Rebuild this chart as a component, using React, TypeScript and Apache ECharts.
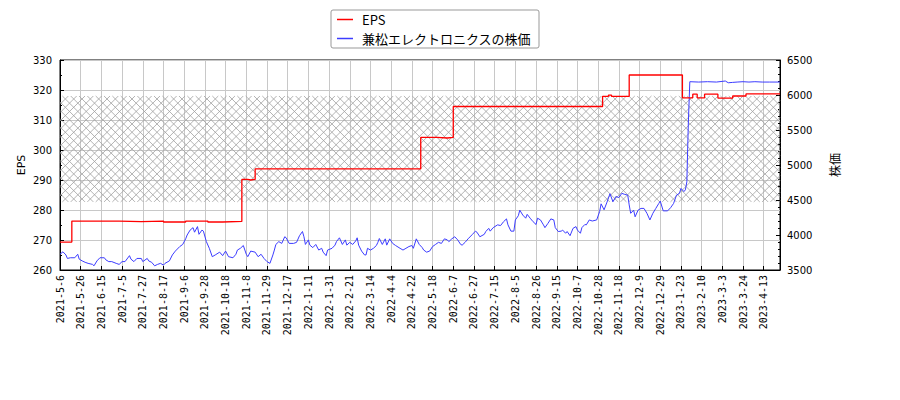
import React, { useEffect, useRef } from "react";
import * as echarts from "echarts";

// trading-day index of every x tick is a multiple of 14
const tickLabels = [
  "2021-5-6", "2021-5-26", "2021-6-15", "2021-7-5", "2021-7-27", "2021-8-17",
  "2021-9-6", "2021-9-28", "2021-10-18", "2021-11-8", "2021-11-29", "2021-12-17",
  "2022-1-11", "2022-1-31", "2022-2-21", "2022-3-14", "2022-4-4", "2022-4-22",
  "2022-5-18", "2022-6-7", "2022-6-27", "2022-7-15", "2022-8-5", "2022-8-26",
  "2022-9-15", "2022-10-7", "2022-10-28", "2022-11-18", "2022-12-9", "2022-12-29",
  "2023-1-23", "2023-2-10", "2023-3-3", "2023-3-24", "2023-4-13",
];
const TICK_STEP = 14;
const LAST_DAY = 487;

// EPS: [day index, value], held until next point
const epsSteps = [
  [0, 269.3], [8, 276.3], [40, 276.1], [55, 276.3], [70, 276.0], [85, 276.3],
  [100, 276.0], [110, 276.2], [123, 290.2], [127, 290.0], [129, 290.2],
  [132, 293.7], [244, 304.2], [255, 304.0], [262, 304.2], [266, 314.5],
  [367, 317.9], [371, 318.3], [373, 317.9], [385, 325.0], [421, 317.4],
  [428, 318.6], [431, 317.4], [436, 318.6], [445, 317.3], [455, 318.0],
  [464, 318.7], [487, 318.7],
];

// share price: [day index, yen]
const price = [
  [0, 3725], [2, 3760], [4, 3715], [5, 3665], [7, 3675], [10, 3675], [12, 3725],
  [13, 3655], [15, 3630], [17, 3610], [19, 3595], [22, 3580], [23, 3560], [25, 3630],
  [27, 3675], [30, 3675], [31, 3645], [33, 3620], [35, 3620], [38, 3595], [40, 3580],
  [42, 3620], [44, 3620], [47, 3705], [48, 3655], [50, 3620], [52, 3665], [55, 3665],
  [56, 3620], [59, 3665], [60, 3630], [62, 3610], [64, 3560], [66, 3580], [68, 3595],
  [70, 3570], [71, 3595], [74, 3630], [76, 3715], [78, 3770], [81, 3835], [83, 3865],
  [85, 3945], [86, 4000], [88, 4070], [90, 4105], [91, 4040], [93, 4120], [94, 4010],
  [96, 4070], [97, 4055], [99, 3905], [101, 3810], [103, 3690], [105, 3715], [108, 3755],
  [110, 3705], [112, 3770], [114, 3690], [117, 3675], [119, 3725], [120, 3785],
  [122, 3810], [124, 3850], [126, 3725], [127, 3690], [129, 3770], [132, 3755],
  [134, 3690], [136, 3725], [138, 3665], [140, 3620], [142, 3595], [144, 3715],
  [145, 3785], [146, 3865], [148, 3905], [150, 3880], [152, 3975], [153, 3960],
  [155, 3880], [158, 3880], [160, 3895], [162, 3990], [164, 4050], [165, 3975],
  [166, 3865], [168, 3930], [169, 3855], [171, 3820], [173, 3865], [175, 3785],
  [177, 3810], [178, 3755], [180, 3705], [181, 3785], [184, 3810], [186, 3855],
  [187, 3905], [189, 3960], [191, 3865], [193, 3930], [194, 3855], [196, 3895],
  [198, 3865], [200, 3915], [201, 3960], [202, 3855], [204, 3770], [206, 3715],
  [207, 3715], [208, 3810], [210, 3785], [212, 3810], [214, 3850], [215, 3895],
  [216, 3950], [218, 3865], [220, 3945], [221, 3855], [223, 3945], [225, 3880],
  [227, 3850], [230, 3810], [232, 3785], [234, 3810], [236, 3835], [238, 3850],
  [239, 3810], [241, 3945], [243, 3865], [245, 3820], [246, 3785], [248, 3755],
  [250, 3770], [252, 3835], [254, 3865], [256, 3895], [258, 3880], [260, 3945],
  [262, 3930], [263, 3905], [265, 3945], [267, 3975], [269, 3930], [271, 3865],
  [272, 3855], [274, 3895], [276, 3945], [279, 4010], [281, 4055], [282, 4040],
  [284, 3975], [287, 4010], [288, 4050], [290, 4095], [291, 4055], [293, 4105],
  [296, 4145], [298, 4135], [300, 4190], [302, 4230], [303, 4145], [305, 4055],
  [307, 4055], [308, 4215], [310, 4275], [311, 4355], [313, 4285], [315, 4240],
  [316, 4295], [318, 4240], [320, 4190], [322, 4150], [323, 4240], [325, 4215],
  [327, 4145], [328, 4105], [330, 4165], [332, 4230], [334, 4215], [335, 4105],
  [337, 4050], [339, 4055], [340, 4070], [342, 4025], [343, 4050], [345, 3990],
  [347, 4095], [349, 4120], [350, 4070], [352, 4025], [353, 4105], [355, 4150],
  [356, 4145], [358, 4215], [360, 4200], [363, 4215], [365, 4335], [366, 4445],
  [368, 4360], [370, 4470], [372, 4590], [374, 4475], [376, 4550], [378, 4535],
  [380, 4595], [382, 4580], [384, 4570], [385, 4430], [386, 4310], [388, 4355],
  [389, 4260], [391, 4355], [393, 4380], [395, 4380], [397, 4310], [399, 4215],
  [401, 4310], [403, 4380], [405, 4450], [406, 4485], [408, 4345], [411, 4345],
  [413, 4390], [415, 4450], [417, 4570], [419, 4595], [420, 4665], [422, 4620],
  [423, 4645], [424, 4760], [425, 5600], [426, 6190], [432, 6185], [438, 6190],
  [444, 6185], [450, 6200], [452, 6175], [455, 6180], [458, 6185], [462, 6190],
  [466, 6185], [470, 6190], [475, 6185], [480, 6185], [487, 6185],
];

// hatched band, in EPS units
const hatchTop = 318;
const hatchBottom = 282.7;

const NUM_FONT = "DejaVu Sans";
const JP_FONT = "Noto Sans CJK JP";

const App = () => {
  const chartRef = useRef<HTMLDivElement>(null);

  useEffect(() => {
    if (!chartRef.current) return undefined;
    const chart = echarts.init(chartRef.current, undefined, { renderer: "svg" });

    const options: any = {
      animation: false,
      backgroundColor: "#fff",
      grid: {
        left: 60,
        right: 120,
        top: 60,
        bottom: 130,
        show: true,
        borderColor: "#000",
        borderWidth: 1,
      },
      legend: {
        left: 331,
        top: 10,
        orient: "vertical",
        data: ["EPS", "兼松エレクトロニクスの株価"],
        icon: "rect",
        itemWidth: 16,
        itemHeight: 1.5,
        itemGap: 6,
        padding: [3, 8, 3, 6],
        backgroundColor: "#fff",
        borderColor: "#999",
        borderWidth: 1,
        borderRadius: 2,
        textStyle: { fontFamily: JP_FONT, fontSize: 13, color: "#000", padding: [0, 0, 0, 4] },
      },
      graphic: [
        {
          type: "text",
          x: 21,
          y: 165,
          rotation: Math.PI / 2,
          silent: true,
          style: {
            text: "EPS",
            fontFamily: NUM_FONT,
            fontSize: 11,
            fill: "#000",
            align: "center",
            verticalAlign: "middle",
          },
        },
      ],
      xAxis: {
        type: "value",
        min: 0,
        max: LAST_DAY,
        interval: TICK_STEP,
        axisLine: { lineStyle: { color: "#000" } },
        axisTick: { inside: true, length: 4, lineStyle: { color: "#000" } },
        splitLine: { show: true, lineStyle: { color: "#c8c8c8", width: 1 } },
        axisLabel: {
          rotate: 90,
          margin: 5,
          color: "#000",
          fontFamily: "DejaVu Sans Mono",
          fontSize: 10,
          showMaxLabel: false,
          formatter: (v: number) => {
            const i = Math.round(v / TICK_STEP);
            return Math.abs(v - i * TICK_STEP) < 1e-6 && i < tickLabels.length
              ? tickLabels[i]
              : "";
          },
        },
      },
      yAxis: [
        {
          type: "value",
          min: 260,
          max: 330,
          interval: 10,
          axisLine: { show: true, lineStyle: { color: "#000" } },
          axisTick: { show: true, inside: true, length: 4, lineStyle: { color: "#000" } },
          minorTick: { show: true, splitNumber: 2, length: 2, lineStyle: { color: "#000" } },
          splitLine: { show: true, lineStyle: { color: "#c8c8c8", width: 1 } },
          axisLabel: { color: "#000", fontFamily: NUM_FONT, fontSize: 10, margin: 8 },
        },
        {
          type: "value",
          position: "right",
          min: 3500,
          max: 6500,
          interval: 500,
          name: "株価",
          nameLocation: "middle",
          nameRotate: 90,
          nameGap: 48,
          nameMoveOverlap: false,
          nameTextStyle: { fontFamily: JP_FONT, fontSize: 12, color: "#000" },
          axisLine: { show: true, lineStyle: { color: "#000" } },
          axisTick: { show: true, inside: true, length: 4, lineStyle: { color: "#000" } },
          minorTick: { show: true, splitNumber: 5, length: 2, lineStyle: { color: "#000" } },
          splitLine: { show: false },
          axisLabel: {
            color: "#000",
            fontFamily: NUM_FONT,
            fontSize: 10,
            margin: 7,
            formatter: (v: number) => String(v),
          },
        },
      ],
      series: [
        {
          type: "custom",
          silent: true,
          xAxisIndex: 0,
          yAxisIndex: 0,
          z: 1,
          data: [[0, hatchTop]],
          renderItem: (_params: any, api: any) => {
            const [x0, y0] = api.coord([0, hatchTop]);
            const [x1, y1] = api.coord([LAST_DAY, hatchBottom]);
            const step = 8.33;
            const children: any[] = [];
            const style = { stroke: "#a0a0a0", lineWidth: 0.8 };
            for (let c = x0 + y0; c <= x1 + y1; c += step) {
              const xa = Math.max(x0, c - y1);
              const xb = Math.min(x1, c - y0);
              if (xb > xa) {
                children.push({
                  type: "line",
                  shape: { x1: xa, y1: c - xa, x2: xb, y2: c - xb },
                  style,
                });
              }
            }
            for (let c = x0 - y1; c <= x1 - y0; c += step) {
              const xa = Math.max(x0, c + y0);
              const xb = Math.min(x1, c + y1);
              if (xb > xa) {
                children.push({
                  type: "line",
                  shape: { x1: xa, y1: xa - c, x2: xb, y2: xb - c },
                  style,
                });
              }
            }
            return { type: "group", children };
          },
        },
        {
          name: "兼松エレクトロニクスの株価",
          type: "line",
          yAxisIndex: 1,
          data: price,
          symbol: "none",
          z: 3,
          lineStyle: { color: "#3c3cff", width: 1 },
          itemStyle: { color: "#3c3cff" },
        },
        {
          name: "EPS",
          type: "line",
          yAxisIndex: 0,
          data: epsSteps,
          step: "end",
          symbol: "none",
          z: 4,
          lineStyle: { color: "#ff0000", width: 1.3 },
          itemStyle: { color: "#ff0000" },
        },
      ],
    };
    chart.setOption(options);
    return () => {
      chart.dispose();
    };
  }, []);

  return (
    <div
      ref={chartRef}
      style={{ position: "fixed", left: 0, top: 0, width: "900px", height: "400px" }}
    />
  );
};

export default App;
